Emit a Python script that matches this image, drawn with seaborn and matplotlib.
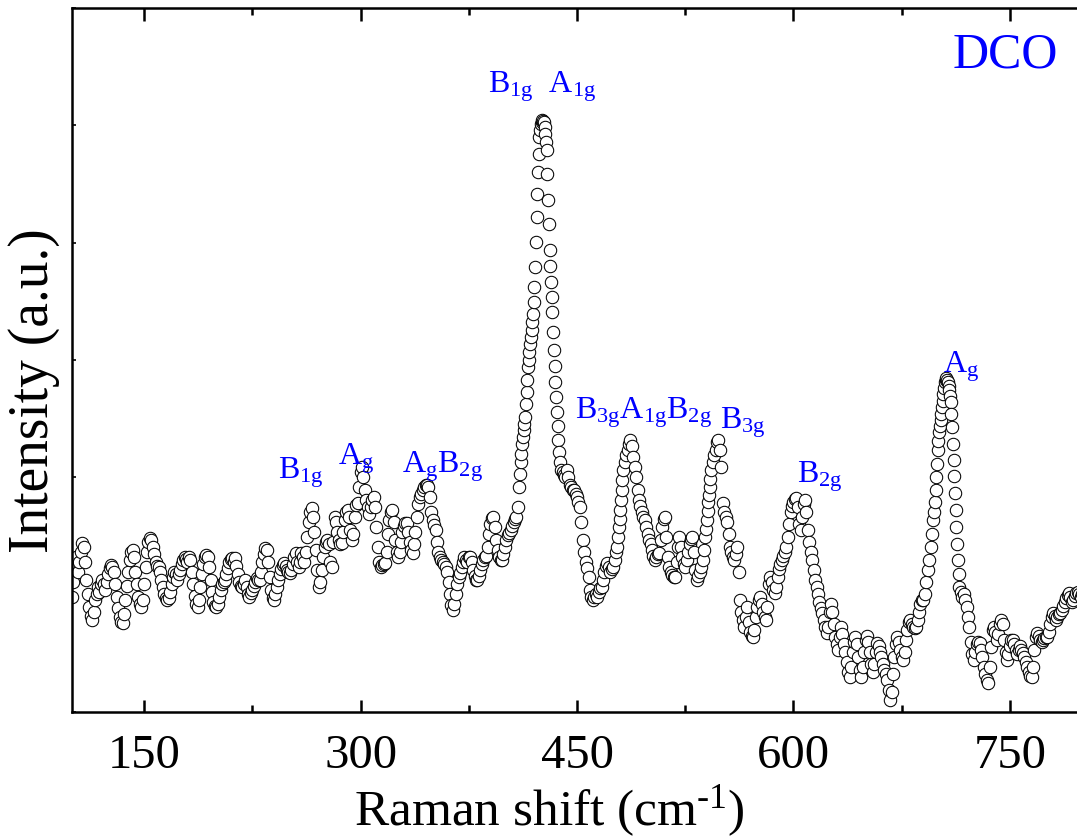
import numpy as np
import pandas as pd
import matplotlib
matplotlib.use('Agg')
import matplotlib.pyplot as plt
from matplotlib.ticker import FixedLocator
import seaborn as sns

# Raman shift grid (cm^-1), one reading per wavenumber
raman_shift = np.arange(100, 801)

# Intensity (arbitrary units)
intensity = [
    115, 130, 145, 155, 140, 150, 160, 169, 165, 150,   # 100
    132, 118, 105, 96, 92, 100, 112, 118, 125, 120,
    128, 132, 128, 122, 130, 138, 144, 147, 145, 140,
    128, 115, 104, 95, 90, 89, 98, 112, 126, 140,
    152, 160, 162, 155, 140, 128, 115, 108, 105, 112,
    128, 145, 160, 170, 174, 172, 165, 158, 150, 146,   # 150
    145, 140, 132, 125, 118, 114, 112, 114, 120, 128,
    135, 140, 138, 132, 138, 142, 148, 152, 155, 153,
    150, 155, 152, 140, 128, 116, 108, 105, 112, 125,
    138, 148, 155, 157, 155, 145, 132, 120, 110, 106,
    105, 108, 115, 122, 128, 130, 132, 138, 144, 150,   # 200
    153, 154, 150, 154, 146, 138, 130, 126, 125, 128,
    132, 125, 118, 115, 119, 122, 126, 130, 134, 132,
    132, 140, 150, 158, 164, 162, 150, 135, 122, 114,
    112, 118, 125, 132, 138, 143, 147, 149, 146, 142,
    140, 139, 142, 148, 155, 159, 150, 145, 150, 159,   # 250
    155, 150, 160, 175, 190, 200, 204, 195, 180, 162,
    142, 125, 130, 142, 155, 165, 170, 172, 168, 150,
    145, 170, 195, 190, 180, 172, 168, 169, 180, 192,
    200, 202, 195, 182, 172, 178, 195, 207, 209, 225,
    240, 245, 235, 222, 212, 205, 198, 205, 212, 215,   # 300
    205, 185, 165, 150, 145, 147, 148, 149, 160, 178,
    192, 200, 202, 190, 172, 160, 155, 160, 170, 180,
    186, 189, 189, 180, 170, 162, 159, 168, 180, 195,
    208, 215, 218, 222, 225, 227, 227, 225, 215, 200,
    192, 187, 182, 170, 160, 155, 152, 150, 148, 145,   # 350
    140, 130, 118, 107, 102, 108, 118, 128, 135, 139,
    145, 150, 155, 152, 150, 155, 155, 150, 142, 136,
    132, 132, 136, 142, 148, 152, 155, 156, 165, 178,
    188, 194, 195, 185, 172, 162, 155, 152, 152, 158,
    165, 172, 177, 179, 182, 186, 190, 193, 195, 205,   # 400
    225, 250, 268, 282, 295, 320, 345, 360, 375, 390,
    410, 445, 495, 540, 575, 588, 592, 590, 578, 562,
    512, 462, 430, 400, 362, 330, 300, 272, 250, 242,
    240, 237, 235, 242, 235, 227, 225, 222, 222, 218,
    215, 210, 205, 190, 172, 160, 150, 144, 135, 122,   # 450
    115, 112, 115, 118, 115, 120, 124, 125, 132, 140,
    146, 149, 145, 140, 143, 145, 152, 160, 165, 185,
    202, 222, 242, 250, 257, 262, 268, 272, 266, 255,
    245, 235, 222, 212, 206, 200, 195, 192, 185, 178,
    172, 168, 162, 156, 152, 155, 158, 159, 172, 185,   # 500
    193, 195, 175, 155, 145, 140, 137, 135, 135, 150,
    165, 175, 165, 155, 148, 145, 152, 160, 168, 173,
    175, 160, 142, 132, 136, 140, 145, 152, 162, 175,
    192, 210, 225, 242, 250, 257, 262, 270, 272, 262,
    245, 209, 200, 195, 190, 178, 165, 160, 155, 152,   # 550
    158, 165, 140, 112, 100, 92, 85, 95, 105, 90,
    80, 76, 75, 82, 95, 105, 112, 115, 108, 100,
    95, 92, 105, 128, 135, 130, 122, 119, 125, 135,
    143, 148, 152, 156, 160, 165, 175, 188, 200, 206,
    210, 213, 214, 205, 188, 182, 195, 208, 212, 200,   # 600
    182, 170, 160, 152, 142, 132, 125, 118, 110, 104,
    99, 92, 85, 79, 85, 100, 108, 100, 88, 75,
    68, 62, 75, 85, 78, 68, 60, 50, 40, 35,
    45, 60, 70, 75, 68, 55, 42, 35, 45, 60,
    72, 76, 70, 60, 48, 40, 48, 60, 69, 66,             # 650
    60, 55, 48, 42, 38, 32, 22, 12, 20, 38,
    55, 68, 75, 70, 62, 55, 52, 60, 72, 82,
    90, 92, 88, 85, 84, 85, 92, 100, 108, 112,
    112, 118, 130, 142, 152, 165, 178, 192, 210, 235,
    262, 280, 292, 305, 318, 330, 334, 330, 322, 310,   # 700
    285, 252, 219, 185, 152, 125, 120, 115, 118, 112,
    105, 95, 85, 70, 58, 52, 60, 68, 70, 69,
    62, 55, 45, 38, 32, 29, 45, 65, 82, 85,
    80, 72, 78, 88, 92, 88, 72, 60, 52, 58,
    66, 72, 72, 68, 62, 58, 62, 66, 62, 59,             # 750
    55, 50, 45, 40, 36, 35, 45, 62, 75, 79,
    76, 72, 70, 72, 74, 75, 75, 80, 88, 95,
    99, 96, 92, 95, 98, 99, 102, 106, 110, 114,
    117, 119, 115, 110, 112, 116, 119, 120, 118, 115,
    118,                                                # 800
]

# extra points visible on the steep flanks of the strong bands
flank_shift = [410.5, 411.5, 412.5, 413.5, 414.5, 415.5, 416.5, 417.5, 418.5, 419.5,
               420.5, 421.5, 422.5, 423.5, 424.5, 425.5, 426.5, 427.5, 428.5, 429.5,
               430.5, 431.5, 432.5, 433.5, 434.5, 435.5, 436.5, 437.5,
               478.5, 479.5, 480.5, 481.5, 539.5, 540.5, 541.5, 542.5,
               697.5, 698.5, 699.5, 700.5, 701.5, 702.5, 703.5, 704.5, 705.5,
               706.5, 707.5, 708.5, 709.5, 710.5, 711.5, 712.5, 713.5, 714.5]
flank_intensity = [238, 258, 275, 288, 308, 332, 352, 368, 382, 398,
                   425, 470, 518, 558, 582, 590, 591, 585, 570, 538,
                   488, 446, 415, 380, 346, 315, 286, 260,
                   175, 193, 212, 232, 183, 201, 217, 233,
                   200, 222, 248, 271, 286, 298, 311, 324, 332,
                   332, 326, 316, 298, 268, 236, 202, 168, 138]

# Mode assignments and where they sit (cm^-1, intensity)
mode_labels = [r'B$_\mathrm{1g}$', r'A$_\mathrm{g}$', r'A$_\mathrm{g}$B$_\mathrm{2g}$',
               r'B$_\mathrm{1g}$  A$_\mathrm{1g}$', r'B$_\mathrm{3g}$A$_\mathrm{1g}$B$_\mathrm{2g}$',
               r'B$_\mathrm{3g}$', r'B$_\mathrm{2g}$', r'A$_\mathrm{g}$']
label_x = [242.8, 284.3, 328.7, 388.3, 448.6, 549.0, 602.4, 703.6]
label_y = [234, 247, 240, 620, 294, 284, 230, 340]

df = pd.DataFrame({'shift': np.concatenate([raman_shift, flank_shift]),
                   'intensity': np.concatenate([intensity, flank_intensity])})
df = df.sort_values('shift')

sns.set_style('ticks')
plt.rcParams['font.family'] = ['Liberation Serif', 'DejaVu Serif']
plt.rcParams['mathtext.fontset'] = 'custom'
plt.rcParams['mathtext.rm'] = 'Liberation Serif'
plt.rcParams['mathtext.it'] = 'Liberation Serif:italic'
for key in ['text.color', 'axes.labelcolor', 'xtick.color', 'ytick.color', 'axes.edgecolor']:
    plt.rcParams[key] = 'black'

fig = plt.figure(figsize=(10.77, 8.4), dpi=100)
ax = fig.add_axes([72 / 1077, 128 / 840, 1010 / 1077, 704 / 840])

sns.scatterplot(data=df, x='shift', y='intensity', ax=ax, marker='o', s=80,
                facecolor='white', edgecolor='black', linewidth=0.75, legend=False)

ax.set_xlim(100, 800)
ax.set_ylim(0, 704)
ax.xaxis.set_major_locator(FixedLocator([150, 300, 450, 600, 750]))
ax.xaxis.set_minor_locator(FixedLocator([225, 375, 525, 675]))
ax.yaxis.set_major_locator(FixedLocator(np.linspace(0, 704, 7)))
ax.set_yticklabels([])
ax.tick_params(axis='x', which='major', direction='in', length=9, width=1.8,
               top=True, labelsize=35, pad=16)
ax.tick_params(axis='x', which='minor', direction='in', length=5, width=1.8, top=True)
ax.tick_params(axis='y', which='major', direction='in', length=3, width=1.2)
for sp in ax.spines.values():
    sp.set_linewidth(1.8)

ax.set_xlabel(r'Raman shift (cm$^{\text{-}\mathrm{1}}$)', fontsize=37)
ax.xaxis.set_label_coords(0.473, -0.101)
ax.set_ylabel('Intensity (a.u.)', fontsize=40)
ax.yaxis.set_label_coords(-0.012, 0.457)

for txt, lx, ly in zip(mode_labels, label_x, label_y):
    ax.text(lx, ly, txt, color='blue', fontsize=23, ha='left', va='baseline')

ax.text(710, 644, 'DCO', color='blue', fontsize=36, ha='left', va='baseline')

fig.savefig('out.png', dpi=100)
